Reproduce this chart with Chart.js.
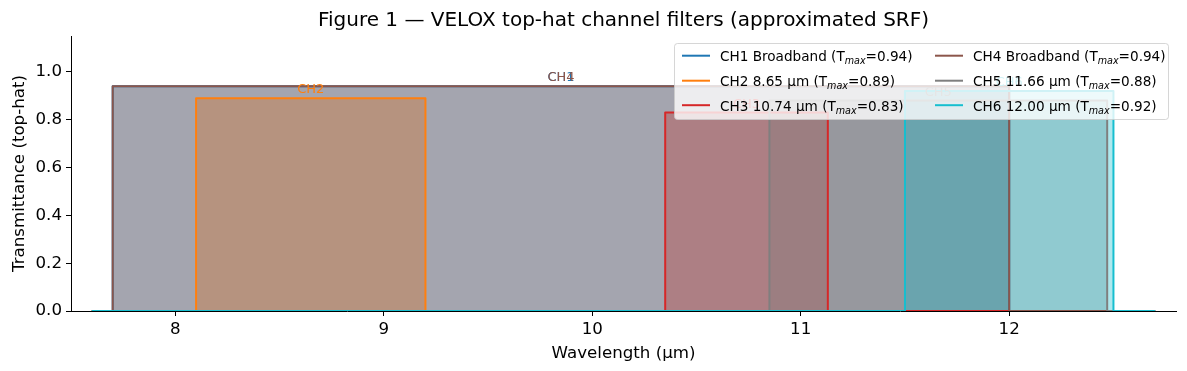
<!DOCTYPE html>
<html><head><meta charset="utf-8">
<script src="https://cdn.jsdelivr.net/npm/chart.js@4"></script>
<style>html,body{margin:0;padding:0;background:#fff}</style>
</head><body>
<canvas id="c" width="1187" height="371"></canvas>
<script>
// ---- data ----
const channelNames = ['CH1', 'CH2', 'CH3', 'CH4', 'CH5', 'CH6'];
const channelDesc = ['Broadband', '8.65 µm', '10.74 µm', 'Broadband', '11.66 µm', '12.00 µm'];
const bandLow  = [7.70, 8.10, 10.35, 7.70, 10.85, 11.50];
const bandHigh = [12.00, 9.20, 11.13, 12.00, 12.47, 12.50];
const tMax     = [0.94, 0.89, 0.83, 0.94, 0.88, 0.92];
const gridStart = 7.6, gridEnd = 12.7;
const xTicks = [8, 9, 10, 11, 12];
const yTicks = [0, 0.2, 0.4, 0.6, 0.8, 1.0];

// ---- styles ----
const colors = ['#1f77b4', '#ff7f0e', '#d62728', '#8c564b', '#7f7f7f', '#17becf'];
const FONT = "'DejaVu Sans', sans-serif";
function rgba(hex, a) {
  const n = parseInt(hex.slice(1), 16);
  return `rgba(${(n >> 16) & 255},${(n >> 8) & 255},${n & 255},${a})`;
}

const datasets = channelNames.map((name, i) => ({
  label: name,
  data: [
    {x: gridStart, y: 0}, {x: bandLow[i], y: 0}, {x: bandLow[i], y: tMax[i]},
    {x: bandHigh[i], y: tMax[i]}, {x: bandHigh[i], y: 0}, {x: gridEnd, y: 0}
  ],
  borderColor: colors[i],
  backgroundColor: rgba(colors[i], 0.35),
  borderWidth: 2,
  pointRadius: 0,
  tension: 0,
  fill: 'origin',
  borderJoinStyle: 'round',
  order: channelNames.length - i
}));

const overlay = {
  id: 'overlay',
  afterDraw(chart) {
    const ctx = chart.ctx, xs = chart.scales.x, ys = chart.scales.y, ca = chart.chartArea;
    ctx.save();
    // title
    ctx.fillStyle = '#000';
    ctx.font = `20px ${FONT}`;
    ctx.textAlign = 'center'; ctx.textBaseline = 'alphabetic';
    ctx.fillText('Figure 1 — VELOX top-hat channel filters (approximated SRF)', (ca.left + ca.right) / 2, 26);
    // axis titles
    ctx.font = `16.67px ${FONT}`;
    ctx.fillText('Wavelength (µm)', (ca.left + ca.right) / 2, 357.5);
    ctx.save();
    ctx.translate(23.5, (ca.top + ca.bottom) / 2);
    ctx.rotate(-Math.PI / 2);
    ctx.fillText('Transmittance (top-hat)', 0, 0);
    ctx.restore();
    // channel labels
    ctx.font = `13px ${FONT}`;
    channelNames.forEach((name, i) => {
      ctx.fillStyle = colors[i];
      ctx.fillText(name, xs.getPixelForValue((bandLow[i] + bandHigh[i]) / 2), ys.getPixelForValue(tMax[i] + 0.02));
    });
    // legend
    const lx = 674.5, ly = 43.5, lw = 494, lh = 76, r = 3;
    ctx.beginPath();
    ctx.moveTo(lx + r, ly);
    ctx.arcTo(lx + lw, ly, lx + lw, ly + lh, r);
    ctx.arcTo(lx + lw, ly + lh, lx, ly + lh, r);
    ctx.arcTo(lx, ly + lh, lx, ly, r);
    ctx.arcTo(lx, ly, lx + lw, ly, r);
    ctx.closePath();
    ctx.fillStyle = 'rgba(255,255,255,0.8)';
    ctx.fill();
    ctx.strokeStyle = 'rgba(204,204,204,0.8)';
    ctx.lineWidth = 1;
    ctx.stroke();
    const colX = [682, 935], rowBase = [61, 86, 110.5];
    ctx.textAlign = 'left';
    channelNames.forEach((name, i) => {
      const col = Math.floor(i / 3), row = i % 3;
      const hx = colX[col], by = rowBase[row];
      ctx.strokeStyle = colors[i];
      ctx.lineWidth = 2;
      ctx.beginPath();
      ctx.moveTo(hx, by - 5.3); ctx.lineTo(hx + 28, by - 5.3);
      ctx.stroke();
      let tx = hx + 38;
      ctx.fillStyle = '#000';
      ctx.font = `13.6px ${FONT}`;
      const a = `${name} ${channelDesc[i]} (T`;
      ctx.fillText(a, tx, by); tx += ctx.measureText(a).width;
      ctx.font = `italic 9.6px ${FONT}`;
      ctx.fillText('max', tx, by + 3); tx += ctx.measureText('max').width;
      ctx.font = `13.6px ${FONT}`;
      ctx.fillText(`=${tMax[i].toFixed(2)})`, tx, by);
    });
    ctx.restore();
  }
};

new Chart(document.getElementById('c'), {
  type: 'line',
  data: {datasets},
  options: {
    responsive: false,
    animation: false,
    devicePixelRatio: 1,
    layout: {padding: {left: 0, top: 36, right: 11, bottom: 0}},
    plugins: {
      legend: {display: false},
      tooltip: {enabled: false},
      title: {display: false},
      filler: {drawTime: 'beforeDatasetsDraw'}
    },
    scales: {
      x: {
        type: 'linear', min: 7.5, max: 12.8, z: 1,
        afterBuildTicks: s => { s.ticks = xTicks.map(v => ({value: v})); },
        afterFit: s => { s.height = 60; },
        ticks: {color: '#000', font: {family: FONT, size: 16.67}, padding: 4, maxRotation: 0, autoSkip: false,
                callback: v => String(v)},
        grid: {display: true, drawOnChartArea: false, drawTicks: true, tickLength: 5, tickColor: '#000', tickWidth: 1},
        border: {display: true, color: '#000', width: 1}
      },
      y: {
        type: 'linear', min: 0, max: 1.15, z: 1,
        afterBuildTicks: s => { s.ticks = yTicks.map(v => ({value: v})); },
        afterFit: s => { s.width = 71; },
        ticks: {color: '#000', font: {family: FONT, size: 16.67}, padding: 4, autoSkip: false,
                callback: v => Number(v).toFixed(1)},
        grid: {display: true, drawOnChartArea: false, drawTicks: true, tickLength: 5, tickColor: '#000', tickWidth: 1},
        border: {display: true, color: '#000', width: 1}
      }
    }
  },
  plugins: [overlay]
});
</script>
</body></html>
